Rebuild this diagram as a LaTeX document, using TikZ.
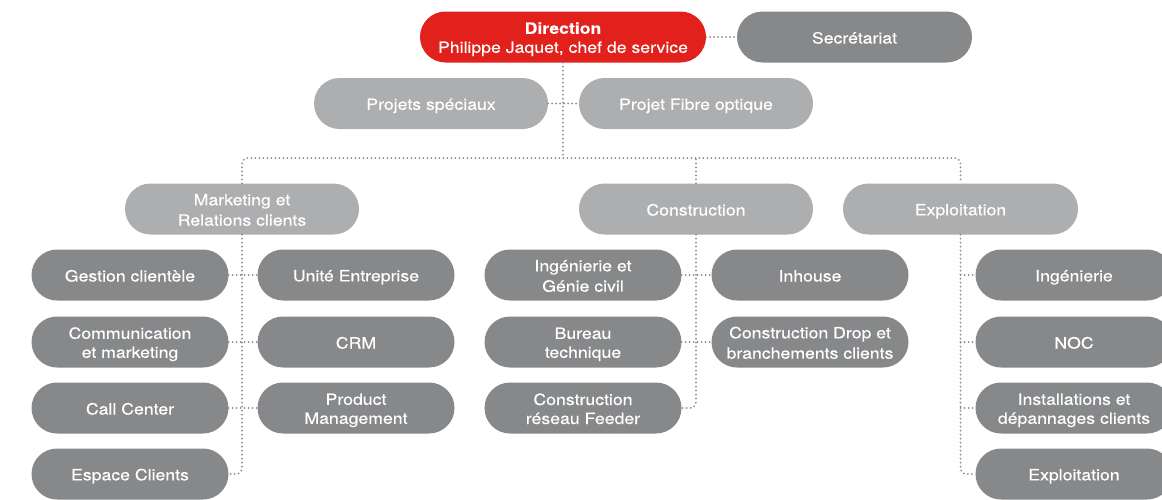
\documentclass[tikz,border=0pt]{standalone}
\usepackage{fontspec}
\setmainfont{TeX Gyre Heros}[FakeStretch=1.14, FakeBold=0.3]
\definecolor{dirred}{HTML}{E2201C}
\definecolor{dgray}{HTML}{87888A}
\definecolor{lgray}{HTML}{ADAEB0}
\definecolor{cgray}{HTML}{8A8A8A}
\newcommand{\sx}{\rule[-3pt]{0pt}{19pt}}
\tikzset{
  box/.style={rectangle, rounded corners=25.5pt, minimum height=51pt, inner sep=0pt,
    text=white, align=center, font=\fontsize{15.5}{19}\selectfont},
  redbox/.style={box, fill=dirred, minimum width=286pt},
  topbox/.style={box, fill=dgray, minimum width=235pt},
  lbox/.style={box, fill=lgray, minimum width=234pt},
  dbox/.style={box, fill=dgray, minimum width=197pt},
  conn/.style={draw=cgray, line width=2pt, line cap=round, dash pattern=on 0pt off 4pt},
}
\begin{document}
\begin{tikzpicture}[x=1pt,y=-1pt]
\useasboundingbox (0,0) rectangle (1162,499);
\clip (0,0) rectangle (1162,499);
% top
\node[redbox] (dir) at (563,37) {\sx\textbf{Direction}\\\sx Philippe Jaquet, chef de service};
\node[topbox] (sec) at (854.5,37) {\sx Secrétariat};
\node[lbox] (ps) at (431,103.5) {\sx Projets spéciaux};
\node[lbox] (pfo) at (696,103.5) {\sx Projet Fibre optique};
% departments
\node[lbox] (mkt) at (242,209) {\sx Marketing et\\\sx Relations clients};
\node[lbox] (cons) at (696,209) {\sx Construction};
\node[lbox, minimum width=235pt] (expl) at (960.5,209) {\sx Exploitation};
\coordinate (busM) at (563,158);
% marketing
\node[dbox] (gest) at (130,275) {\sx Gestion clientèle};
\node[dbox] (comm) at (130,342) {\sx Communication\\\sx et marketing};
\node[dbox] (call) at (130,408) {\sx Call Center};
\node[dbox] (esp) at (130,474) {\sx Espace Clients};
\node[dbox] (unite) at (356,275) {\sx Unité Entreprise};
\node[dbox] (crm) at (356,342) {\sx CRM};
\node[dbox] (prod) at (356,408) {\sx Product\\\sx Management};
% construction
\node[dbox] (ing) at (583,275) {\sx Ingénierie et\\\sx Génie civil};
\node[dbox] (bur) at (583,342) {\sx Bureau\\\sx technique};
\node[dbox] (feed) at (583,408) {\sx Construction\\\sx réseau Feeder};
\node[dbox] (inh) at (810,275) {\sx Inhouse};
\node[dbox] (drop) at (810,342) {\sx Construction Drop et\\\sx branchements clients};
% exploitation
\node[dbox] (eing) at (1074,275) {\sx Ingénierie};
\node[dbox] (noc) at (1074,342) {\sx NOC};
\node[dbox] (inst) at (1074,408) {\sx Installations et\\\sx dépannages clients};
\node[dbox] (eexp) at (1074,474) {\sx Exploitation};
% connectors
\draw[conn] (dir.east) -- (sec.west);
\draw[conn] (dir.south) -- (busM);
\draw[conn] (ps.east) -- (pfo.west);
\draw[conn, rounded corners=6pt] (mkt.north) |- (busM) -| (expl.north);
\draw[conn] (cons.north) -- (cons.north |- busM);
\draw[conn, rounded corners=6pt] (mkt.south) |- (esp.east);
\draw[conn] (gest.east) -- (unite.west);
\draw[conn] (comm.east) -- (crm.west);
\draw[conn] (call.east) -- (prod.west);
\draw[conn, rounded corners=6pt] (cons.south) |- (feed.east);
\draw[conn] (ing.east) -- (inh.west);
\draw[conn] (bur.east) -- (drop.west);
\draw[conn, rounded corners=6pt] (expl.south) |- (eexp.west);
\draw[conn] (expl.south |- eing.west) -- (eing.west);
\draw[conn] (expl.south |- noc.west) -- (noc.west);
\draw[conn] (expl.south |- inst.west) -- (inst.west);
\end{tikzpicture}
\end{document}
